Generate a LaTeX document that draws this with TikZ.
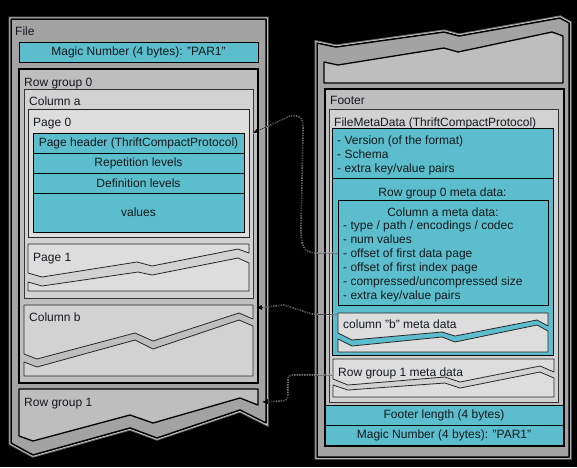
\documentclass[tikz,border=0pt]{standalone}
\usepackage{fontspec}
\setmainfont{Liberation Sans}
\usetikzlibrary{arrows.meta,calc}
\definecolor{pqteal}{RGB}{92,190,204}
\definecolor{pqfile}{RGB}{163,163,163}
\definecolor{pqgroup}{RGB}{190,190,190}
\definecolor{pqcol}{RGB}{210,210,210}
\definecolor{pqpage}{RGB}{221,221,221}
\definecolor{pqtext}{RGB}{20,24,30}

\begin{document}
\begin{tikzpicture}[x=1pt, y=-1pt,
  every node/.style={font=\fontsize{12}{14}\selectfont, text=pqtext},
  area/.style={anchor=north west, inner sep=0pt, outer sep=0pt},
  filebody/.style={fill=pqfile, draw=black, line width=1.5pt, line join=round,
                   preaction={draw=white!45!black, line width=5pt},
                   preaction={draw=white!85!black, line width=3pt}},
  group/.style={area, fill=pqgroup, draw=black, line width=1.3pt},
  colbox/.style={area, fill=pqcol, draw=black!80, line width=0.8pt},
  pagebox/.style={area, fill=pqpage, draw=black!85, line width=0.8pt},
  field/.style={area, fill=pqteal, draw=black, line width=0.8pt, align=center},
  hole/.style={area},
  torn/.style={fill=pqpage, draw=black!85, line width=0.8pt, line join=round},
  ttl/.style={anchor=base west, inner sep=0pt},
  ctr/.style={anchor=base, inner sep=0pt},
  lst/.style={anchor=west, inner sep=0pt, align=left},
  link/.style={-{Latex[length=6pt,width=5pt]}, black, line width=0.5pt,
               preaction={-, draw=white!85!black, line width=1.1pt,
                          dash pattern=on 1.5pt off 1pt}}
]
\useasboundingbox[fill=black] (0,0) rectangle (577,467);

% --- file (left)
\draw[filebody] (11,19) -- (266,19) -- (266,423) -- (240,410) -- (157,438)
  -- (130,428) -- (33,455) -- (11,443) -- cycle;
\node[ttl] (file_t) at (15,35) {File};
\node[field, minimum width=239pt, minimum height=20pt] (magic1) at (19,42)
  {Magic Number (4 bytes): "PAR1"};

% row group 0
\node[group, minimum width=239pt, minimum height=314pt] (rg0) at (19,69) {};
\node[ttl] (rg0_t) at (24,86) {Row group 0};
\node[colbox, minimum width=229pt, minimum height=209pt] (col_a) at (24,89) {};
\node[ttl] (col_a_t) at (29,105) {Column a};
\node[pagebox, minimum width=221pt, minimum height=128pt] (p0) at (28,109) {};
\node[ttl] (p0_t) at (33,126) {Page 0};
\node[field, minimum width=211pt, minimum height=20pt] (hdr) at (33,133)
  {Page header (ThriftCompactProtocol)};
\node[field, minimum width=211pt, minimum height=20pt] (rep) at (33,153)
  {Repetition levels};
\node[field, minimum width=211pt, minimum height=20pt] (def) at (33,173)
  {Definition levels};
\node[field, minimum width=211pt, minimum height=39pt] (vals) at (33,193)
  {values};

% page 1 (torn)
\node[hole, minimum width=221pt, minimum height=47pt] (p1) at (28,244) {};
\draw[torn] (28,244) -- (249,244) -- (249,253) -- (238,249) -- (152,266)
  -- (137,262) -- (42,277) -- (28,273) -- cycle;
\draw[torn] (28,282) -- (42,286) -- (138,272) -- (152,275) -- (238,258)
  -- (249,263) -- (249,291) -- (28,291) -- cycle;
\node[ttl] (p1_t) at (33,261) {Page 1};

% column b (torn)
\node[hole, minimum width=229pt, minimum height=71pt] (col_b) at (24,305) {};
\draw[torn, fill=pqcol] (24,305) -- (253,305) -- (253,319) -- (239,313)
  -- (153,341) -- (135,333) -- (37,359) -- (24,354) -- cycle;
\draw[torn, fill=pqcol] (24,362) -- (37,367) -- (135,340) -- (153,349)
  -- (239,320) -- (253,326) -- (253,376) -- (24,376) -- cycle;
\node[ttl] (col_b_t) at (29,321) {Column b};

% row group 1 (torn)
\node[hole, minimum width=239pt, minimum height=16pt] (rg1) at (19,389) {};
\draw[torn, fill=pqgroup, draw=black, line width=1.3pt] (19,389) -- (258,389)
  -- (258,405) -- (240,398) -- (153,423) -- (130,415) -- (33,441)
  -- (19,436) -- cycle;
\node[ttl] (rg1_t) at (24,406) {Row group 1};

% --- file (right)
\draw[filebody] (317,43) -- (336,47) -- (444,32) -- (459,36) -- (560,18)
  -- (569,23) -- (569,457) -- (317,457) -- cycle;
\draw[torn, fill=pqgroup, draw=black, line width=1.3pt] (324,62) -- (338,65)
  -- (444,48) -- (458,52) -- (552,32) -- (563,36) -- (563,83) -- (324,83) -- cycle;

% footer
\node[group, minimum width=239pt, minimum height=357pt] (footer) at (325,89) {};
\node[ttl] (footer_t) at (330,104) {Footer};
\node[colbox, minimum width=229pt, minimum height=293pt] (fmd) at (329,109) {};
\node[ttl] (fmd_t) at (334,126) {FileMetaData (ThriftCompactProtocol)};
\node[field, minimum width=221pt, minimum height=50pt] (ver) at (332,128) {};
\node[lst] (ver_t) at (337,155)
  {- Version (of the format)\\- Schema\\- extra key/value pairs};
\node[field, minimum width=221pt, minimum height=177pt] (rg0m) at (332,178) {};
\node[ctr] (rg0m_t) at (442.5,196) {Row group 0 meta data:};
\node[field, minimum width=210pt, minimum height=105pt] (cma) at (338,200) {};
\node[ctr] (cma_t) at (443,216) {Column a meta data:};
\node[lst] (cma_l) at (343,261)
  {- type / path / encodings / codec\\- num values\\- offset of first data page\\
   - offset of first index page\\- compressed/uncompressed size\\
   - extra key/value pairs};

% column b meta data (torn)
\node[hole, minimum width=210pt, minimum height=39pt] (cmb) at (338,313) {};
\draw[torn] (338,313) -- (548,313) -- (548,326) -- (537,320) -- (455,336)
  -- (442,332) -- (352,340) -- (338,333) -- cycle;
\draw[torn] (338,339) -- (352,346) -- (442,337) -- (455,342) -- (537,325)
  -- (548,331) -- (548,352) -- (338,352) -- cycle;
\node[ttl] (cmb_t) at (343,328) {column "b" meta data};

% row group 1 meta data (torn)
\node[hole, minimum width=221pt, minimum height=38pt] (rg1m) at (333,359) {};
\draw[torn] (333,359) -- (554,359) -- (554,372) -- (540,366) -- (460,382)
  -- (445,377) -- (348,385) -- (333,379) -- cycle;
\draw[torn] (333,385) -- (348,390) -- (445,383) -- (460,388) -- (540,372)
  -- (554,378) -- (554,397) -- (333,397) -- cycle;
\node[ttl] (rg1m_t) at (338,376) {Row group 1 meta data};

\node[field, minimum width=238pt, minimum height=20pt] (flen) at (325,405)
  {Footer length (4 bytes)};
\node[field, minimum width=238pt, minimum height=20pt] (magic2) at (325,425)
  {Magic Number (4 bytes): "PAR1"};

% --- links
\draw[link] ([yshift=-53pt]cma.north west) -- (318,253)
  .. controls (302,253) and (301,245) .. (301,228) -- (303,128)
  .. controls (303,117) and (298,114) .. (290,116) -- (col_a.east |- hdr.north);
\draw[link] ([yshift=-2pt]cmb.north west) -- (312,314) -- (284,305)
  -- ([xshift=3pt,yshift=-3pt]col_b.north east);
\draw[link] ([yshift=-16pt]rg1m.north west) -- (293,375)
  .. controls (287,375) and (288,378) .. (288,384) -- (288,394)
  .. controls (288,400) and (285,401) .. (280,401)
  -- ([xshift=4pt,yshift=-13pt]rg1.north east);

\end{tikzpicture}
\end{document}
